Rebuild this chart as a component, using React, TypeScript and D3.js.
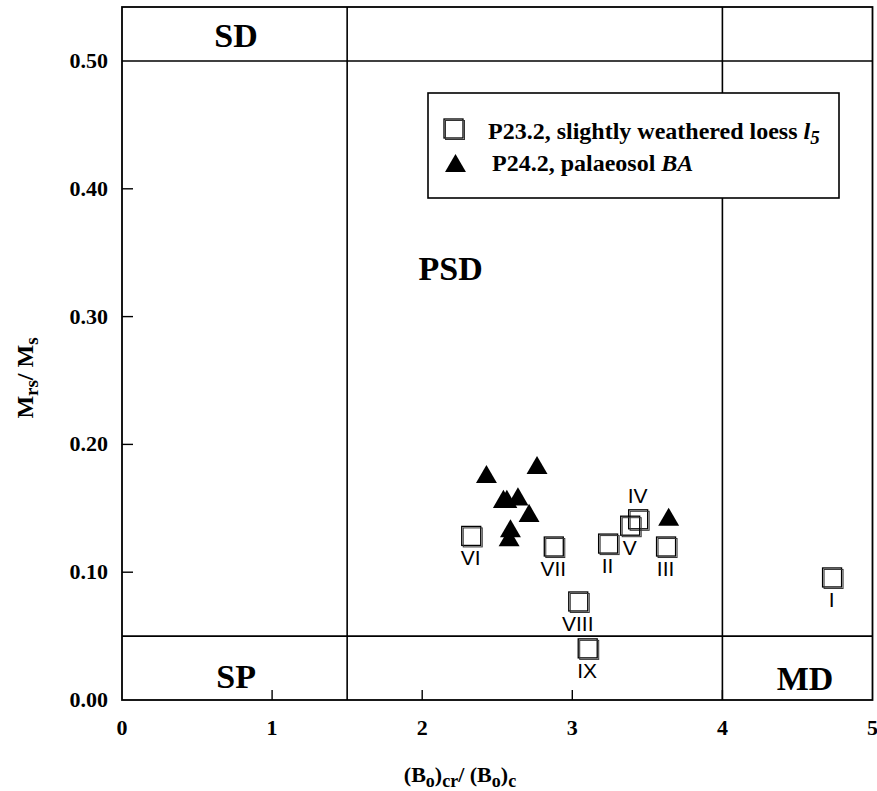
import React from 'react';
import * as d3 from 'd3';

// P23.2 – slightly weathered loess (open squares, roman labels)
const loessIds = ['I', 'II', 'III', 'IV', 'V', 'VI', 'VII', 'VIII', 'IX'];
const loessBcrBc = [4.734, 3.242, 3.628, 3.442, 3.389, 2.33, 2.88, 3.043, 3.106];
const loessMrsMs = [0.0955, 0.122, 0.1197, 0.141, 0.136, 0.128, 0.1197, 0.0767, 0.04];
const loessLabelSide = ['below', 'below', 'below', 'above', 'below', 'below', 'below', 'below', 'below'];

// P24.2 – palaeosol BA (filled triangles)
const soilBcrBc = [2.428, 2.765, 2.541, 2.564, 2.638, 2.712, 2.588, 2.579, 3.642];
const soilMrsMs = [0.1745, 0.1815, 0.155, 0.155, 0.157, 0.144, 0.132, 0.125, 0.141];

// Day-plot domain boundaries
const bcrLines = [1.5, 4];
const mrsLines = [0.05, 0.5];
const zoneNames = ['SD', 'PSD', 'SP', 'MD'];
const zoneX = [0.76, 2.19, 0.76, 4.55];
const zoneY = [0.511, 0.329, 0.0094, 0.0078];

const xTicks = [0, 1, 2, 3, 4, 5];
const yTicks = [0, 0.1, 0.2, 0.3, 0.4, 0.5];

const serif = '"Liberation Serif", "Times New Roman", serif';
const sans = '"Liberation Sans", Arial, sans-serif';

const App = () => {
    const width = 877;
    const height = 791;
    const left = 122, right = 872.5, top = 7;

    const x = d3.scaleLinear().domain([0, 5]).range([left, right]);
    const y = d3.scaleLinear().domain([0, 0.5]).range([700, 61]);
    const yMax = y.invert(top);
    const bottom = y(0);

    const tri = d3.symbol().type(d3.symbolTriangle).size(190)();

    const square = (cx: number, cy: number, key: string) => (
        <g key={key}>
            <rect x={cx - 10} y={cy - 10} width={19} height={19} fill="none" stroke="#000" strokeWidth={1.3} />
            <rect x={cx - 8.5} y={cy - 8.5} width={19} height={19} fill="none" stroke="#333" strokeWidth={1} />
        </g>
    );

    return (
        <svg width={width} height={height} style={{ position: 'absolute', left: 0, top: 0, background: '#fff' }}>
            {/* frame */}
            <rect x={left} y={y(yMax)} width={right - left} height={bottom - y(yMax)} fill="none" stroke="#000" strokeWidth={1.8} />

            {/* domain boundaries */}
            {bcrLines.map(v => (
                <line key={'v' + v} x1={x(v)} x2={x(v)} y1={y(yMax)} y2={bottom} stroke="#000" strokeWidth={1.6} />
            ))}
            {mrsLines.map(v => (
                <line key={'h' + v} x1={left} x2={right} y1={y(v)} y2={y(v)} stroke="#000" strokeWidth={1.6} />
            ))}

            {/* inward ticks */}
            {xTicks.filter(t => t > 0 && t < 5).map(t => (
                <line key={'xt' + t} x1={x(t)} x2={x(t)} y1={bottom} y2={bottom - 10} stroke="#000" strokeWidth={1.4} />
            ))}
            {yTicks.filter(t => t > 0 && t < 0.5).map(t => (
                <line key={'yt' + t} x1={left} x2={left + 11} y1={y(t)} y2={y(t)} stroke="#000" strokeWidth={1.4} />
            ))}

            {/* tick labels */}
            {xTicks.map(t => (
                <text key={'xl' + t} x={x(t)} y={735} textAnchor="middle" fontFamily={serif} fontWeight="bold" fontSize={22}>
                    {d3.format('d')(t)}
                </text>
            ))}
            {yTicks.map(t => (
                <text key={'yl' + t} x={108} y={y(t) + 7} textAnchor="end" fontFamily={serif} fontWeight="bold" fontSize={22}>
                    {d3.format('.2f')(t)}
                </text>
            ))}

            {/* zone names */}
            {zoneNames.map((n, i) => (
                <text key={n} x={x(zoneX[i])} y={y(zoneY[i])} textAnchor="middle" fontFamily={serif} fontWeight="bold" fontSize={34}>
                    {n}
                </text>
            ))}

            {/* legend */}
            <rect x={428} y={93} width={411} height={105} fill="#fff" stroke="#000" strokeWidth={1.6} />
            {square(454, 129, 'lg-sq')}
            <text x={488} y={139} fontFamily={serif} fontWeight="bold" fontSize={24}>
                P23.2, slightly weathered loess <tspan fontStyle="italic">l</tspan>
                <tspan fontStyle="italic" fontSize={19} dy={5}>5</tspan>
            </text>
            <path d={tri} transform="translate(455.5,166)" fill="#000" />
            <text x={492} y={171} fontFamily={serif} fontWeight="bold" fontSize={24}>
                P24.2, palaeosol <tspan fontStyle="italic">BA</tspan>
            </text>

            {/* palaeosol triangles */}
            {soilBcrBc.map((v, i) => (
                <path key={'tr' + i} d={tri} transform={`translate(${x(v)},${y(soilMrsMs[i])})`} fill="#000" />
            ))}

            {/* loess squares + labels */}
            {loessBcrBc.map((v, i) => square(x(v), y(loessMrsMs[i]), 'sq' + i))}
            {loessBcrBc.map((v, i) => (
                <text key={'lb' + i} x={x(v) - 1} y={y(loessMrsMs[i]) + (loessLabelSide[i] === 'above' ? -17 : 29)}
                    textAnchor="middle" fontFamily={sans} fontSize={21}>
                    {loessIds[i]}
                </text>
            ))}

            {/* axis titles */}
            <text x={460} y={782} textAnchor="middle" fontFamily={serif} fontWeight="bold" fontSize={22}>
                (B<tspan fontSize={18} dy={5}>o</tspan>
                <tspan dy={-5}>)</tspan>
                <tspan fontSize={18} dy={5}>cr</tspan>
                <tspan dy={-5}>/ (B</tspan>
                <tspan fontSize={18} dy={5}>o</tspan>
                <tspan dy={-5}>)</tspan>
                <tspan fontSize={18} dy={5}>c</tspan>
            </text>
            <text transform="translate(33,378) rotate(-90)" textAnchor="middle" fontFamily={serif} fontWeight="bold" fontSize={24}>
                M<tspan fontSize={19} dy={5}>rs</tspan>
                <tspan dy={-5}>/ M</tspan>
                <tspan fontSize={19} dy={5}>s</tspan>
            </text>
        </svg>
    );
};

export default App;
